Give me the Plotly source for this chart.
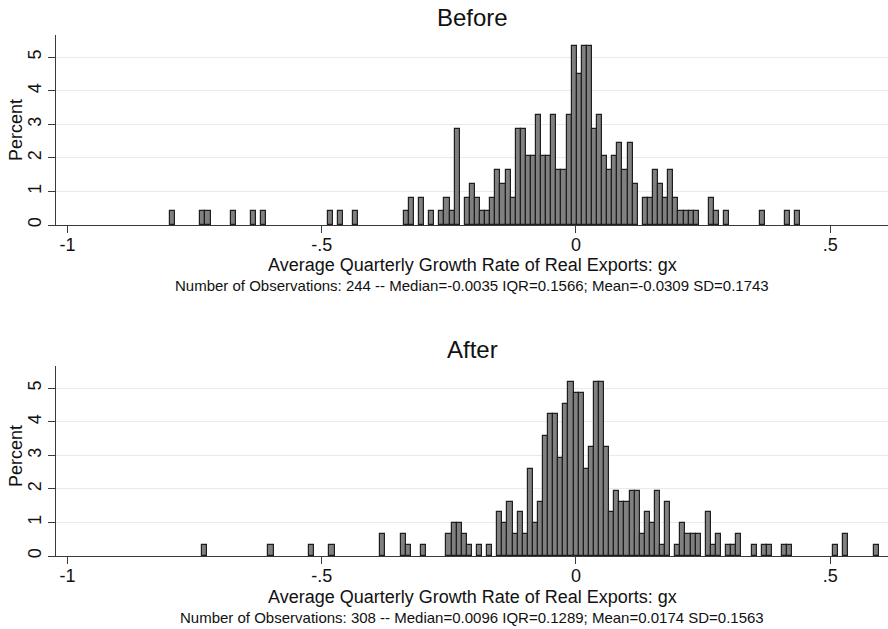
import plotly.graph_objects as go

# ---- data: histogram counts per bin (bin width 0.01) ----
bin_width = 0.01
before_start = -0.7985
before_counts = [
    1, 0, 0, 0, 0, 0, 1, 1, 0, 0,
    0, 0, 1, 0, 0, 0, 1, 0, 1, 0,
    0, 0, 0, 0, 0, 0, 0, 0, 0, 0,
    0, 1, 0, 1, 0, 0, 1, 0, 0, 0,
    0, 0, 0, 0, 0, 0, 1, 2, 0, 2,
    0, 1, 0, 1, 2, 1, 7, 0, 2, 3,
    2, 1, 1, 2, 4, 3, 4, 2, 7, 7,
    5, 5, 8, 5, 5, 8, 4, 4, 8, 13,
    11, 13, 13, 7, 8, 5, 4, 5, 6, 4,
    6, 3, 0, 2, 2, 4, 3, 2, 4, 2,
    1, 1, 1, 1, 0, 0, 2, 1, 0, 1,
    0, 0, 0, 0, 0, 0, 1, 0, 0, 0,
    0, 1, 0, 1,
]
after_start = -0.7347
after_counts = [
    1, 0, 0, 0, 0, 0, 0, 0, 0, 0,
    0, 0, 0, 1, 0, 0, 0, 0, 0, 0,
    0, 1, 0, 0, 0, 1, 0, 0, 0, 0,
    0, 0, 0, 0, 0, 2, 0, 0, 0, 2,
    1, 0, 0, 1, 0, 0, 0, 0, 2, 3,
    3, 2, 1, 0, 1, 0, 1, 0, 4, 3,
    5, 2, 4, 2, 8, 3, 5, 11, 13, 13,
    9, 14, 16, 15, 15, 8, 10, 16, 16, 10,
    4, 6, 5, 5, 6, 6, 2, 4, 3, 6,
    1, 5, 0, 1, 3, 2, 2, 2, 0, 4,
    1, 2, 0, 1, 1, 2, 0, 0, 1, 0,
    1, 1, 0, 0, 1, 1, 0, 0, 0, 0,
    0, 0, 0, 0, 1, 0, 2, 0, 0, 0,
    0, 0, 1,
]
panel_titles = ["Before", "After"]
x_title = "Average Quarterly Growth Rate of Real Exports: gx"
notes = [
    "Number of Observations: 244 -- Median=-0.0035 IQR=0.1566; Mean=-0.0309 SD=0.1743",
    "Number of Observations: 308 -- Median=0.0096 IQR=0.1289; Mean=0.0174 SD=0.1563",
]
x_tickvals = [-1, -0.5, 0, 0.5]
x_ticktext = ["-1", "-.5", "0", ".5"]
y_tickvals = [0, 1, 2, 3, 4, 5]

W, H = 888, 629
FONT = "Liberation Sans, Arial, Helvetica, sans-serif"
fig = go.Figure()


def bars(start, counts):
    n = sum(counts)
    xs, ys = [], []
    for i, c in enumerate(counts):
        if c > 0:
            xs.append(start + (i + 0.5) * bin_width)
            ys.append(c / n * 100)
    return xs, ys


for k, (start, counts) in enumerate([(before_start, before_counts), (after_start, after_counts)]):
    xs, ys = bars(start, counts)
    fig.add_trace(go.Bar(
        x=xs, y=ys, width=bin_width,
        marker=dict(color="#808080", line=dict(color="#1e1e1e", width=1.2)),
        xaxis="x" if k == 0 else "x2", yaxis="y" if k == 0 else "y2",
        showlegend=False, hoverinfo="x+y",
    ))

# panel geometry in pixels
left_px, right_px = 56, 888
panels = [(35, 225), (366, 556)]


def py(p):
    return 1 - p / H


axis_common = dict(
    showline=True, linecolor="#3a3a3a", linewidth=1.2,
    ticks="outside", ticklen=7, tickwidth=1.2, tickcolor="#3a3a3a",
    tickfont=dict(family=FONT, size=18, color="#111"),
    zeroline=False,
)

layout = dict(
    width=W, height=H, margin=dict(l=0, r=0, t=0, b=0, autoexpand=False),
    paper_bgcolor="white", plot_bgcolor="white", bargap=0, showlegend=False,
)
for k, (top, bot) in enumerate(panels):
    sx = "" if k == 0 else "2"
    layout["xaxis" + sx] = dict(
        axis_common, domain=[left_px / W, right_px / W], range=[-1.0224, 0.6136],
        tickvals=x_tickvals, ticktext=x_ticktext, showgrid=False,
        ticklabelstandoff=-4, anchor="y" + sx,
    )
    layout["yaxis" + sx] = dict(
        axis_common, domain=[py(bot), py(top)], range=[0, 5.665],
        tickvals=y_tickvals, tickangle=-90, showgrid=True,
        gridcolor="#eaeaea", gridwidth=1, anchor="x" + sx,
    )
fig.update_layout(**layout)

cx = (left_px + right_px) / 2 / W
title_y = [18, 350]
xtitle_y = [265, 597]
note_y = [285, 617]
pct_y = [130, 456]
ann = []
for k in range(2):
    ann.append(dict(text=panel_titles[k], x=cx, y=py(title_y[k]), xref="paper", yref="paper",
                    showarrow=False, xanchor="center", yanchor="middle",
                    font=dict(family=FONT, size=24, color="#111")))
    ann.append(dict(text=x_title, x=cx, y=py(xtitle_y[k]), xref="paper", yref="paper",
                    showarrow=False, xanchor="center", yanchor="middle",
                    font=dict(family=FONT, size=18, color="#111")))
    ann.append(dict(text=notes[k], x=cx, y=py(note_y[k]), xref="paper", yref="paper",
                    showarrow=False, xanchor="center", yanchor="middle",
                    font=dict(family=FONT, size=15, color="#111")))
    ann.append(dict(text="Percent", x=16 / W, y=py(pct_y[k]), xref="paper", yref="paper",
                    showarrow=False, xanchor="center", yanchor="middle", textangle=-90,
                    font=dict(family=FONT, size=18, color="#111")))
fig.update_layout(annotations=ann)

fig.write_html(
    "out.html",
    config={"displayModeBar": False},
    post_script="document.body.style.margin='0px';document.body.style.overflow='hidden';",
)
